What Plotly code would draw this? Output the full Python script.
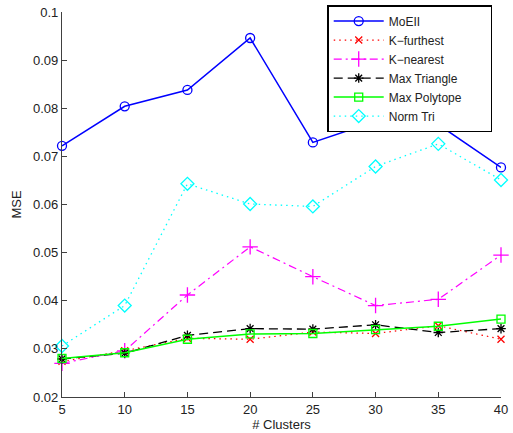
import plotly.graph_objects as go

clusters = [5, 10, 15, 20, 25, 30, 35, 40]

moeii = [0.0722, 0.0804, 0.0838, 0.0946, 0.0729, 0.0773, 0.0766, 0.0677]
k_furthest = [0.0274, 0.0296, 0.0322, 0.0320, 0.0335, 0.0332, 0.0348, 0.0320]
k_nearest = [0.0270, 0.0296, 0.0412, 0.0512, 0.0450, 0.0390, 0.0403, 0.0495]
max_triangle = [0.0279, 0.0291, 0.0328, 0.0342, 0.0341, 0.0350, 0.0334, 0.0342]
max_polytope = [0.0280, 0.0292, 0.0320, 0.0331, 0.0332, 0.0340, 0.0347, 0.0362]
norm_tri = [0.0306, 0.0390, 0.0643, 0.0601, 0.0596, 0.0679, 0.0726, 0.0651]

# name, values, colour, dash, marker symbol, marker size, line width
series = [
    ("MoEII", moeii, "#0000ff", "solid", "circle-open", 9, 1.5),
    ("K\u2212furthest", k_furthest, "#ff0000", "1.5px,4px", "x-thin-open", 7, 1.2),
    ("K\u2212nearest", k_nearest, "#ff00ff", "8px,4px,2px,4px", "cross-thin-open", 11, 1.2),
    ("Max Triangle", max_triangle, "#000000", "9px,5px", "asterisk-open", 8, 1.3),
    ("Max Polytope", max_polytope, "#00ff00", "solid", "square-open", 8, 1.4),
    ("Norm Tri", norm_tri, "#00ffff", "1.5px,4px", "diamond-open", 10, 1.3),
]

pad = "\u00a0" * 7

fig = go.Figure()
for name, vals, color, dash, symbol, msize, lw in series:
    fig.add_trace(go.Scatter(
        x=clusters, y=vals, name=name + pad, mode="lines+markers",
        line=dict(color=color, width=lw, dash=dash),
        marker=dict(symbol=symbol, size=msize, color=color,
                    line=dict(color=color, width=1.3)),
        cliponaxis=False,
    ))

axis_common = dict(
    showgrid=False, zeroline=False, showline=True,
    linecolor="#404040", linewidth=1.3,
    ticks="inside", ticklen=5, tickcolor="#404040",
    tickfont=dict(family="Liberation Sans, Arial", size=13, color="#222"),
    ticklabeloverflow="allow",
    mirror=False,
)

fig.update_layout(
    width=513, height=433,
    margin=dict(l=62, r=5, t=12, b=36),
    paper_bgcolor="white", plot_bgcolor="white",
    font=dict(family="Liberation Sans, Arial", size=13, color="#222"),
    xaxis=dict(range=[5, 40], tickvals=clusters, ticktext=[str(c) for c in clusters],
               title=dict(text="# Clusters", standoff=0, font=dict(size=13)),
               **axis_common),
    yaxis=dict(range=[0.02, 0.1], tickvals=[0.02, 0.03, 0.04, 0.05, 0.06, 0.07, 0.08, 0.09, 0.1],
               ticktext=["0.02", "0.03", "0.04", "0.05", "0.06", "0.07", "0.08", "0.09", "0.1"],
               title=dict(text="MSE", standoff=8, font=dict(size=13)),
               **axis_common),
    legend=dict(
        x=0.98, y=1.018, xanchor="right", yanchor="top",
        bgcolor="white", bordercolor="black", borderwidth=1.5,
        font=dict(size=12, color="#222"), itemwidth=50,
        tracegroupgap=0, traceorder="normal",
    ),
    showlegend=True,
)

fig.write_html("out.html")
